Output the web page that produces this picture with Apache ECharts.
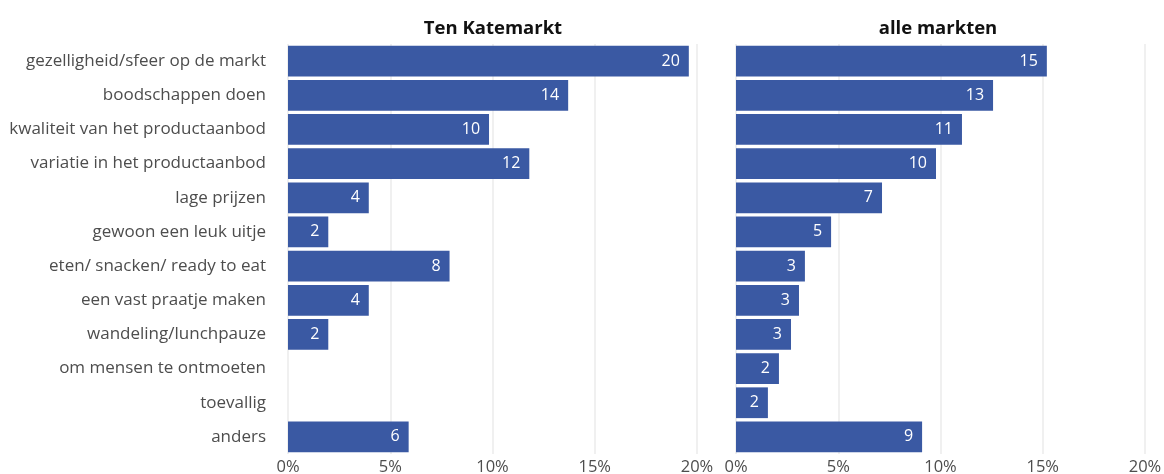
<!DOCTYPE html>
<html><head><meta charset="utf-8">
<script src="https://cdn.jsdelivr.net/npm/echarts@6/dist/echarts.min.js"></script>
<style>html,body{margin:0;padding:0;background:#fff}#c{width:1164px;height:474px}</style>
</head><body><div id="c"></div>
<script>
const categories = ["gezelligheid/sfeer op de markt","boodschappen doen","kwaliteit van het productaanbod","variatie in het productaanbod","lage prijzen","gewoon een leuk uitje","eten/ snacken/ ready to eat","een vast praatje maken","wandeling/lunchpauze","om mensen te ontmoeten","toevallig","anders"];
const panelTitles = ["Ten Katemarkt","alle markten"];
const tenKate = [19.6, 13.7, 9.83, 11.8, 3.95, 1.97, 7.9, 3.95, 1.97, 0, 0, 5.9];
const alleMarkten = [15.2, 12.57, 11.05, 9.78, 7.14, 4.65, 3.37, 3.08, 2.69, 2.1, 1.56, 9.1];
const xTicks = [0, 5, 10, 15, 20];

const FONT = "Open Sans";
const TXT = "#4d4d4d";
const BAR = "#3a59a3";
const grids = [
  {left: 288, width: 409, top: 44, height: 410, outerBoundsMode: 'none', containLabel: false},
  {left: 736, width: 409, top: 44, height: 410, outerBoundsMode: 'none', containLabel: false}
];
const titleCenters = [488, 933];
const xAxes = grids.map((g,i)=>({
  type:'value', gridIndex:i, min:0, max:20, interval:5,
  axisLine:{show:false}, axisTick:{show:false},
  splitLine:{show:true, lineStyle:{color:'#ebebeb', width:1.5}},
  axisLabel:{formatter:v=>v+'%', color:TXT, fontFamily:FONT, fontSize:16.5, margin:5}
}));
const yAxes = grids.map((g,i)=>({
  type:'category', gridIndex:i, data:categories, inverse:true,
  axisLine:{show:false}, axisTick:{show:false},
  axisLabel:{show:i===0, color:TXT, fontFamily:FONT, fontSize:17, margin:22}
}));
const mk = (data,i)=>({
  type:'bar', xAxisIndex:i, yAxisIndex:i, data:data,
  barCategoryGap:'10%', itemStyle:{color:BAR},
  label:{show:true, position:'insideRight', distance:9, color:'#fff', fontFamily:FONT, fontSize:16,
    formatter:p=>p.value>0?String(Math.round(p.value)):''}
});
const chart = echarts.init(document.getElementById('c'), null, {renderer:'canvas'});
chart.setOption({
  animation:false,
  title: panelTitles.map((t,i)=>({
    text:t, left: titleCenters[i], top: 14, textAlign:'center',
    textStyle:{fontFamily:FONT, fontWeight:'bold', fontSize:18.5, color:'#111'}
  })),
  grid: grids,
  xAxis: xAxes,
  yAxis: yAxes,
  series: [mk(tenKate,0), mk(alleMarkten,1)]
});
</script></body></html>
